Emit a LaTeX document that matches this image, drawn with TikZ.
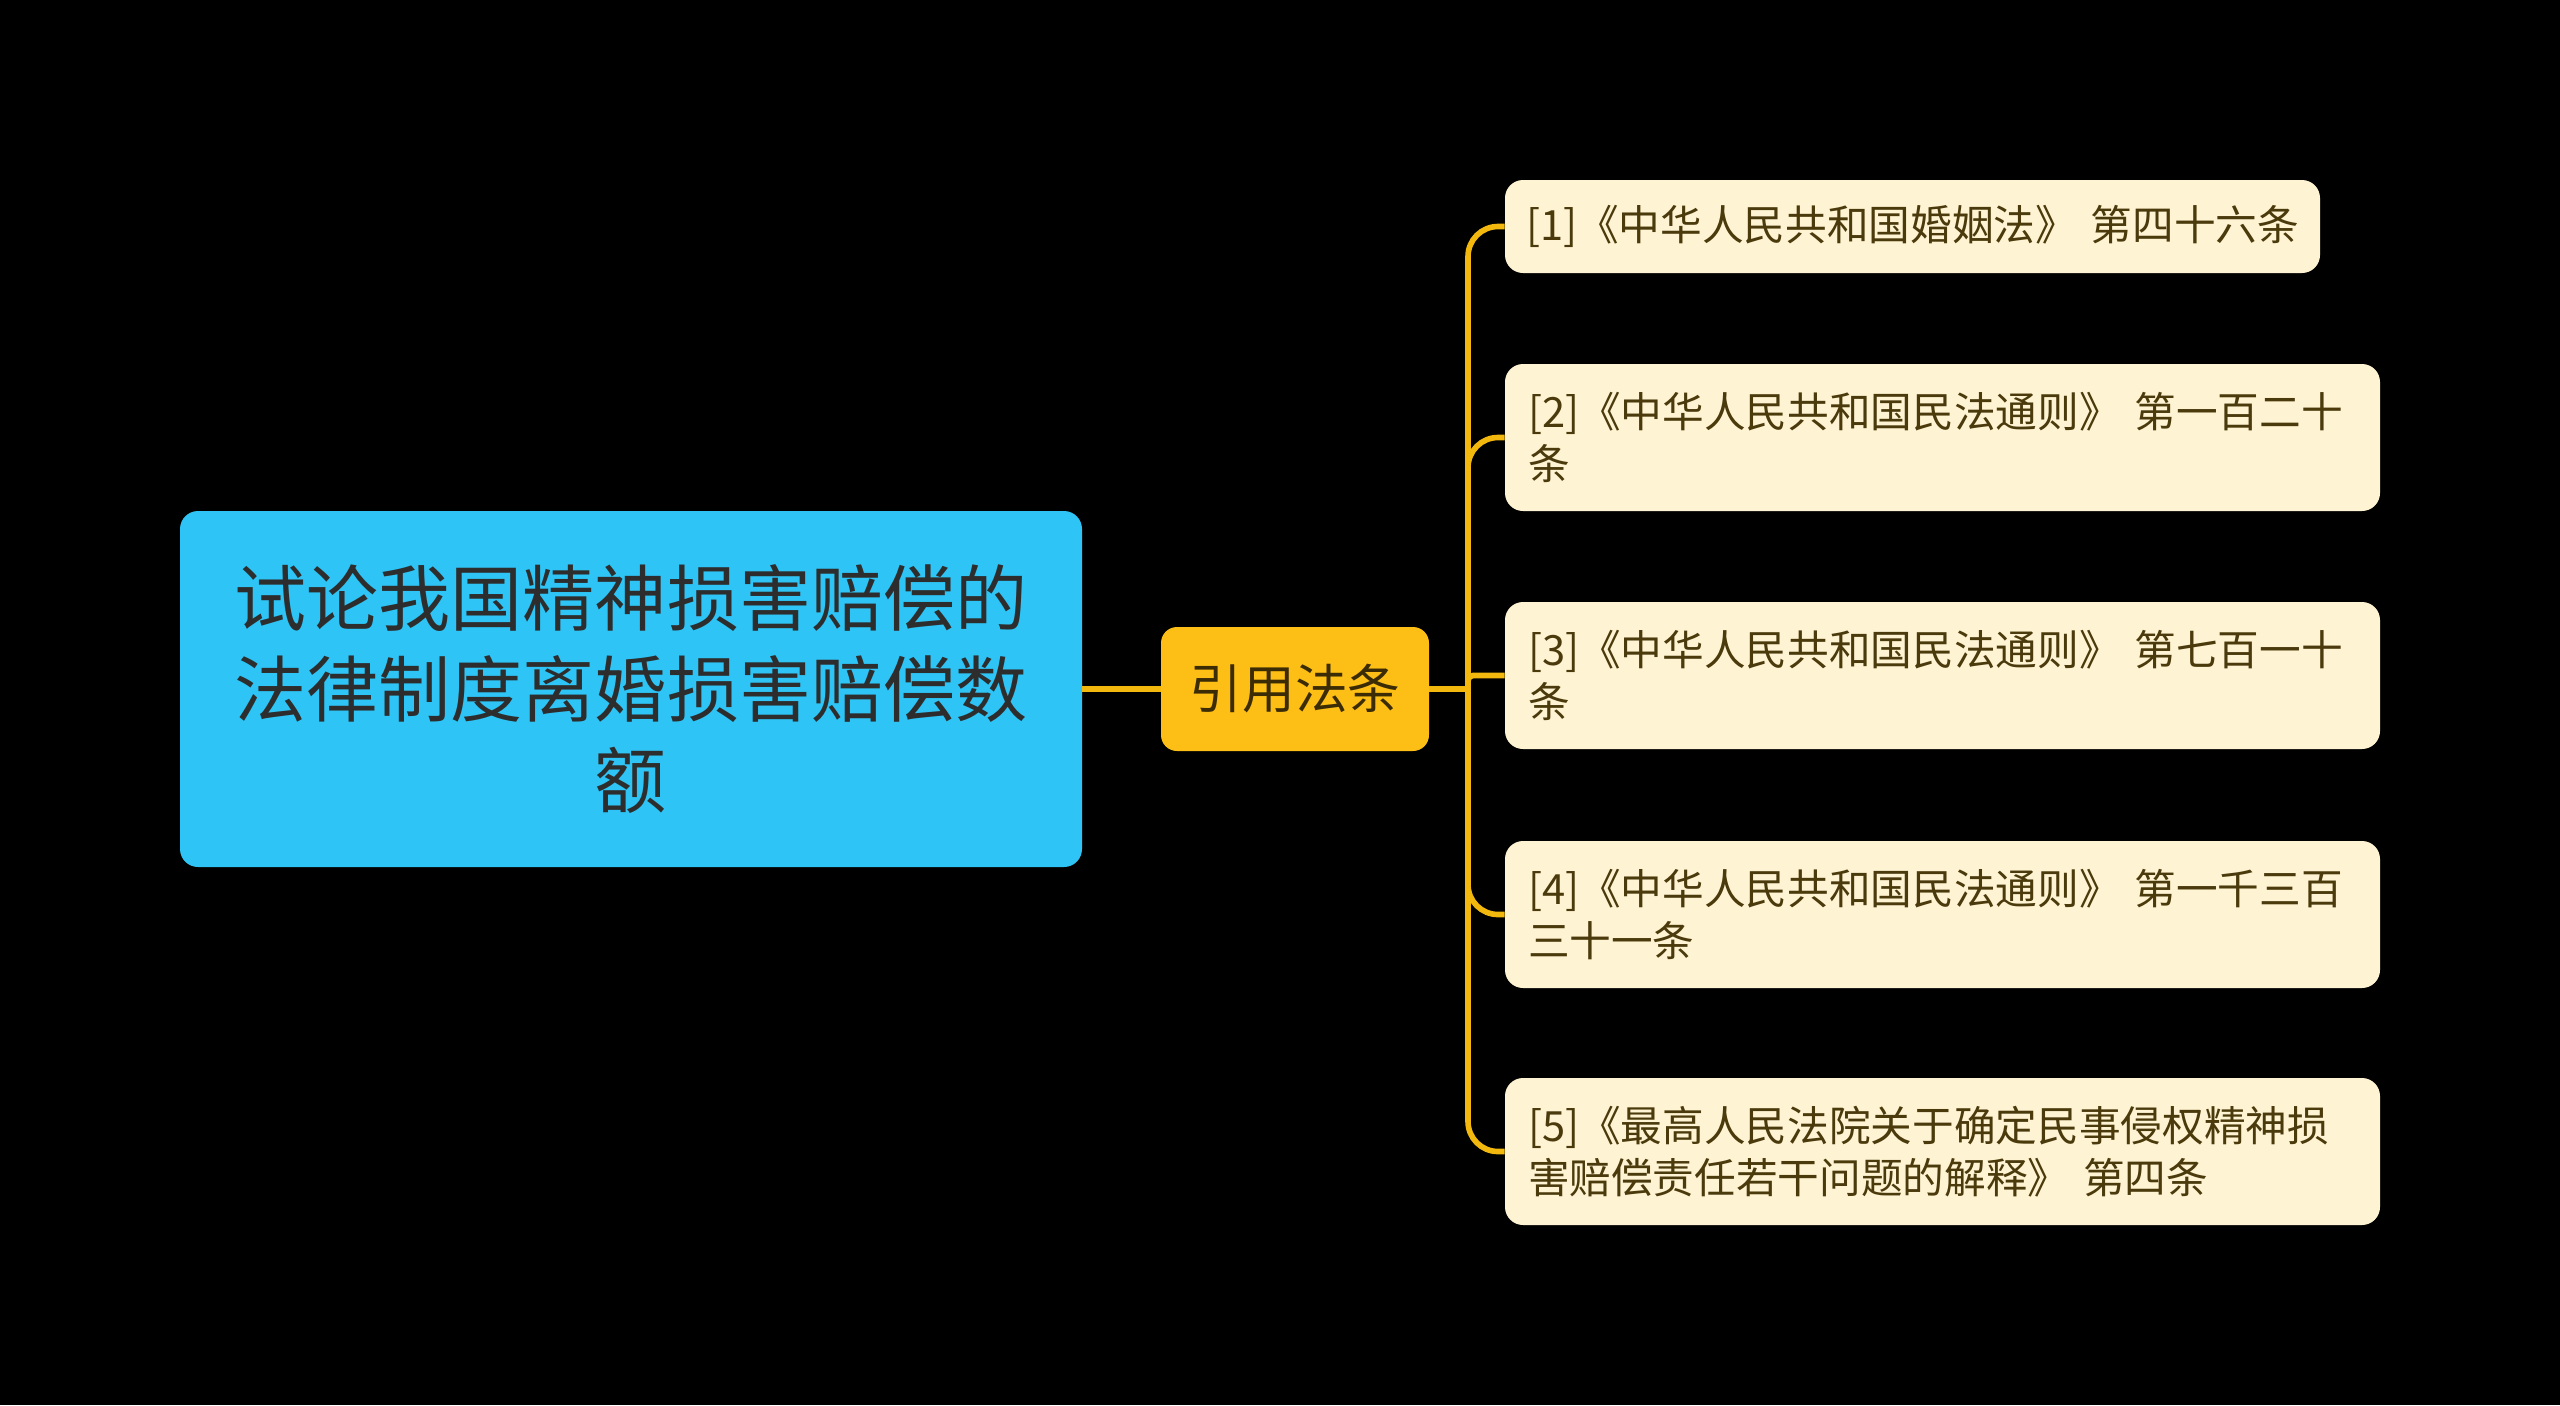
\documentclass[tikz,border=0pt]{standalone}
\usepackage{fontspec}
\newfontfamily\cjk{Noto Sans CJK SC}
\definecolor{bg}{HTML}{000000}
\definecolor{rootfill}{HTML}{2EC4F5}
\definecolor{roottext}{HTML}{2D2D2D}
\definecolor{midfill}{HTML}{FDBF15}
\definecolor{midtext}{HTML}{3B2C05}
\definecolor{leaffill}{HTML}{FEF3D2}
\definecolor{leaftext}{HTML}{4A3A0C}
\definecolor{conncol}{HTML}{F2B80E}
\tikzset{
  rootbox/.style={fill=rootfill, rounded corners=0.36cm, minimum width=18.04cm, minimum height=7.12cm,
    align=center, text=roottext, font=\cjk\fontsize{41pt}{52pt}\selectfont, inner sep=0pt},
  midbox/.style={fill=midfill, rounded corners=0.32cm, minimum width=5.36cm, minimum height=2.48cm,
    align=center, text=midtext, font=\cjk\fontsize{30pt}{36pt}\selectfont, inner sep=0pt},
  leafbox/.style={fill=leaffill, rounded corners=0.36cm, minimum height=2.94cm, minimum width=17.5cm,
    text width=16.58cm, align=left, text=leaftext, font=\cjk\fontsize{23.7pt}{29.5pt}\selectfont, inner xsep=0.46cm, inner ysep=0pt},
  conn/.style={draw=conncol, line width=3.2pt}
}
\begin{document}
\begin{tikzpicture}
\useasboundingbox (0,0) rectangle (51.2,-28.1);
\fill[bg] (0,0) rectangle (51.2,-28.1);

\node[rootbox] (root) at (12.62,-13.78) {试论我国精神损害赔偿的\\法律制度离婚损害赔偿数\\额};
\node[midbox] (mid) at (25.9,-13.78) {引用法条};

\node[leafbox, minimum width=16.3cm, text width=15.7cm, inner xsep=0.3cm, minimum height=1.86cm] (l1) at (38.25,-4.53) {\hspace*{0.12cm}[1]《中华人民共和国婚姻法》 第四十六条};
\node[leafbox] (l2) at (38.85,-8.75) {[2]《中华人民共和国民法通则》 第一百二十\\条};
\node[leafbox] (l3) at (38.85,-13.51) {[3]《中华人民共和国民法通则》 第七百一十\\条};
\node[leafbox] (l4) at (38.85,-18.29) {[4]《中华人民共和国民法通则》 第一千三百\\三十一条};
\node[leafbox] (l5) at (38.85,-23.03) {[5]《最高人民法院关于确定民事侵权精神损\\害赔偿责任若干问题的解释》 第四条};

\coordinate (j) at (29.36,-13.78);
\draw[conn] (root.east) -- (mid.west);
\draw[conn] (mid.east) -- (j);
\draw[conn, rounded corners=0.6cm] (j) |- (l1.west);
\draw[conn, rounded corners=0.6cm] (j) |- (l2.west);
\draw[conn, rounded corners=0.1cm] (j) |- (l3.west);
\draw[conn, rounded corners=0.6cm] (j) |- (l4.west);
\draw[conn, rounded corners=0.6cm] (j) |- (l5.west);
\end{tikzpicture}
\end{document}
